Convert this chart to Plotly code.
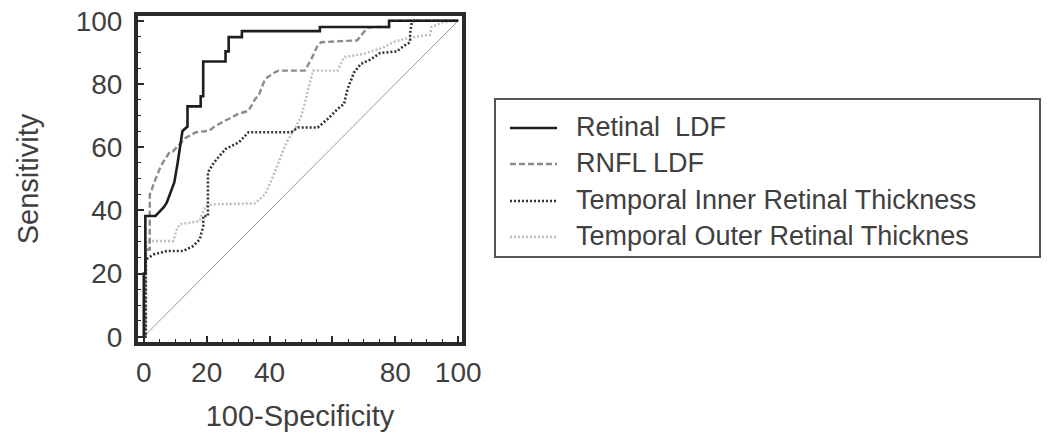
import plotly.graph_objects as go

# ROC curves: 100-Specificity (x) vs Sensitivity (y), in percent
retinal_ldf_x = [0, 0, 0.5, 0.5, 3.7, 4.7, 6.3, 7.3, 8.4, 9.7, 10.7, 11.9, 12.3, 13.9, 13.9,
                 18.1, 18.1, 18.9, 18.9, 26, 26, 27, 27, 31.2, 31.2, 56, 56, 78, 78, 100]
retinal_ldf_y = [0, 20, 20, 38.2, 38.2, 39.3, 40.9, 42.4, 45.6, 48.8, 54.6, 61.6, 65.1, 66.5, 72.9,
                 72.9, 76.1, 76.1, 87.1, 87.1, 90.3, 90.3, 94.8, 94.8, 96.7, 96.7, 98, 98, 100, 100]

rnfl_ldf_x = [0, 0.5, 0.5, 1.9, 1.9, 2.4, 3, 4.4, 5, 6, 8.2, 9.2, 11.9, 13.4, 16.6, 20.8, 22.9,
              27, 30, 33.3, 35.4, 36.5, 38.6, 41.7, 42.8, 51.2, 53.3, 55.3, 56.4, 67.9, 70,
              71.1, 73.2, 78, 78.3, 100]
rnfl_ldf_y = [0, 0, 27.6, 27.6, 45, 46, 48, 52, 53, 55, 58.4, 58.6, 61.5, 63, 64.7, 65.2, 66.8,
              69, 70.5, 71.5, 75.2, 76.3, 81.6, 83.7, 84.2, 84.2, 87.9, 92.2, 93.2, 93.8, 96.2,
              97.8, 98, 98, 100, 100]

inner_x = [0, 0.6, 0.6, 1.6, 3.1, 7.3, 12.6, 15.7, 17.8, 18.9, 18.9, 20.4, 20.4, 22.3, 26, 30.2,
           33.3, 46.9, 49, 55.3, 58.5, 61.6, 63.7, 64.8, 66.9, 69, 72, 75.2, 80.5, 82.6, 84.7,
           84.7, 85.2, 86, 100]
inner_y = [0, 0, 24.4, 25, 26, 27.1, 27.1, 28.7, 30.8, 35, 38.2, 38.2, 52, 55.1, 59.4, 61.5,
           64.7, 64.7, 66.2, 66.2, 68.9, 72, 73.7, 78.4, 83.7, 86.3, 87.7, 89.8, 90.3, 92, 93.2,
           96.2, 99.4, 100, 100]

outer_x = [0, 0.8, 0.8, 9.4, 10.5, 11.5, 17.8, 18.3, 19.7, 22, 35.4, 38.6, 40.7, 43.8, 45.4, 48,
           50.1, 51.2, 52.7, 53.8, 61.6, 63.7, 70, 76, 80, 84, 89, 91, 91.5, 95, 100]
outer_y = [0, 0, 30.3, 30.3, 34, 35.6, 36.6, 38.2, 41.4, 41.9, 42.2, 45.1, 49.8, 57.2, 61.5, 65.7,
           69.9, 74, 79.5, 84.2, 84.2, 88.5, 89.5, 91.5, 93.5, 94.5, 95.3, 95.5, 98, 99.5, 100]

chance_x = [0, 100]
chance_y = [0, 100]

series_names = ["Retinal  LDF", "RNFL LDF", "Temporal Inner Retinal Thickness",
                "Temporal Outer Retinal Thicknes"]
x_tick_vals = [0, 20, 40, 60, 80, 100]
x_tick_text = ["0", "20", "40", "", "80", "100"]
y_tick_vals = [0, 20, 40, 60, 80, 100]

FONT = "Liberation Sans, Arial, sans-serif"
TEXT = "#404040"
W, H = 1063, 436
ML, MR, MT, MB = 138, 601, 16, 94

styles = [
    dict(color="#1e1e1e", width=2.6, dash="solid"),
    dict(color="#8c8c8c", width=2.4, dash="6px,3px"),
    dict(color="#333333", width=2.6, dash="2px,2px"),
    dict(color="#bdbdbd", width=2.4, dash="2px,2px"),
]
curves = [(retinal_ldf_x, retinal_ldf_y), (rnfl_ldf_x, rnfl_ldf_y),
          (inner_x, inner_y), (outer_x, outer_y)]

fig = go.Figure()
fig.add_trace(go.Scatter(x=chance_x, y=chance_y, mode="lines",
                         line=dict(color="#9a9a9a", width=1), showlegend=False))
# draw lighter curves first so the darker ones sit on top
for idx in [3, 1, 2, 0]:
    cx, cy = curves[idx]
    fig.add_trace(go.Scatter(x=cx, y=cy, mode="lines", name=series_names[idx],
                             line=styles[idx], showlegend=False))

axis_common = dict(
    showgrid=False, zeroline=False, showline=True, mirror=True,
    linecolor="#2a2a2a", linewidth=4,
    ticks="inside", ticklen=6, tickwidth=1.5, tickcolor="#2a2a2a",
    minor=dict(dtick=5, ticks="inside", ticklen=3, tickwidth=1, tickcolor="#2a2a2a"),
    tickfont=dict(family=FONT, size=28, color=TEXT),
)

fig.update_xaxes(range=[-1.84, 101.2], tickvals=x_tick_vals, ticktext=x_tick_text,
                 ticklabelstandoff=2,
                 title=dict(text="100-Specificity", font=dict(family=FONT, size=29, color=TEXT),
                            standoff=20),
                 **axis_common)
fig.update_yaxes(range=[-1.68, 101.5], tickvals=y_tick_vals,
                 ticklabelstandoff=6,
                 title=dict(text="Sensitivity", font=dict(family=FONT, size=29, color=TEXT),
                            standoff=30),
                 **axis_common)

# legend drawn in pixel positions converted to paper coordinates
pw, ph = W - ML - MR, H - MT - MB


def px(xp):
    return (xp - ML) / pw


def py(yp):
    return (H - MB - yp) / ph


shapes = [dict(type="rect", xref="paper", yref="paper",
               x0=px(495), x1=px(1040), y0=py(257), y1=py(99),
               line=dict(color="#555555", width=2), fillcolor="rgba(0,0,0,0)")]
annotations = []
row_y = [127, 163, 200, 236]
for name, st, ry in zip(series_names, styles, row_y):
    shapes.append(dict(type="line", xref="paper", yref="paper",
                       x0=px(510), x1=px(557), y0=py(ry + 1), y1=py(ry + 1),
                       line=st))
    annotations.append(dict(xref="paper", yref="paper", x=px(574), y=py(ry),
                            text=name, showarrow=False, xanchor="left", yanchor="middle",
                            font=dict(family=FONT, size=27, color=TEXT)))

fig.update_layout(
    width=W, height=H,
    margin=dict(l=ML, r=MR, t=MT, b=MB, autoexpand=False),
    paper_bgcolor="white", plot_bgcolor="white",
    shapes=shapes, annotations=annotations,
    showlegend=False,
)

fig.write_html("out.html")
